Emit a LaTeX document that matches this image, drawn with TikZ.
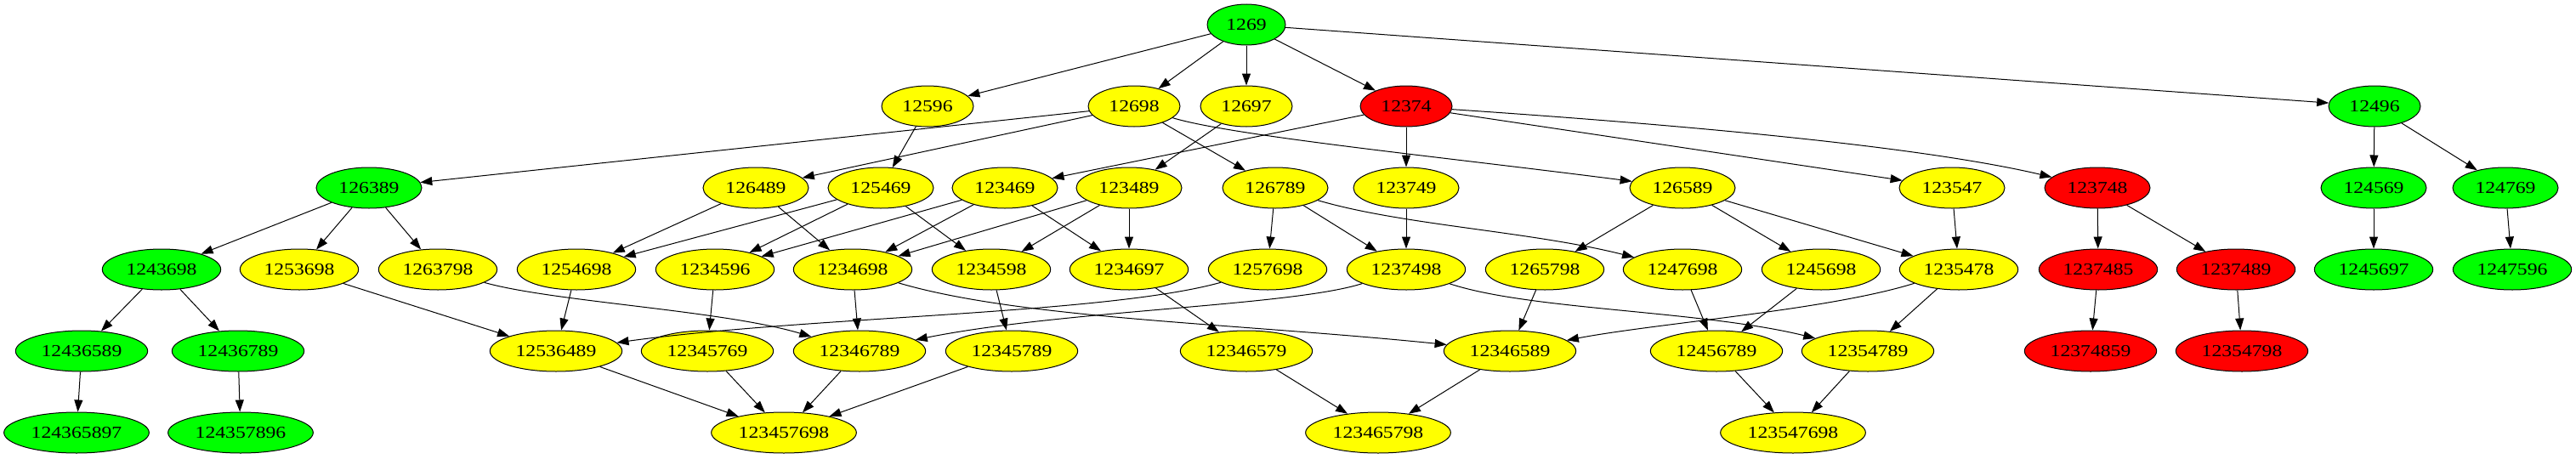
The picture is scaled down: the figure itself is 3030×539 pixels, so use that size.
\documentclass[tikz,border=0pt]{standalone}
\usepackage{fontspec}
\setmainfont[FakeStretch=1.2]{Liberation Serif}
\usetikzlibrary{arrows.meta,shapes.geometric}
\definecolor{gvgreen}{RGB}{0,255,0}
\definecolor{gvyellow}{RGB}{255,255,0}
\definecolor{gvred}{RGB}{255,0,0}
\begin{document}
\begin{tikzpicture}[x=0.75pt,y=-0.75pt,
  nd/.style={ellipse,draw=black,line width=0.75pt,minimum height=36pt,inner sep=0pt,font=\fontsize{14.8}{16}\selectfont},
  grn/.style={nd,fill=gvgreen},
  yel/.style={nd,fill=gvyellow},
  redn/.style={nd,fill=gvred},
  dd4/.style={minimum width=69pt},
  dd5/.style={minimum width=81pt},
  dd6/.style={minimum width=93pt},
  dd7/.style={minimum width=104.5pt},
  dd8/.style={minimum width=116.5pt},
  dd9/.style={minimum width=128pt},
  arr/.style={line width=0.75pt,-{Triangle[length=10.5pt,width=7.5pt]}}
]
\useasboundingbox (0,0) rectangle (3030,539);
% row 1
\node[grn,dd4] (n1269) at (1466,29) {1269};
% row 2
\node[yel,dd5] (n12596) at (1091,125) {12596};
\node[yel,dd5] (n12698) at (1334,125) {12698};
\node[yel,dd5] (n12697) at (1466,125) {12697};
\node[redn,dd5] (n12374) at (1654,125) {12374};
\node[grn,dd5] (n12496) at (2793,125) {12496};
% row 3
\node[grn,dd6] (n126389) at (434,221) {126389};
\node[yel,dd6] (n126489) at (889,221) {126489};
\node[yel,dd6] (n125469) at (1036,221) {125469};
\node[yel,dd6] (n123469) at (1182,221) {123469};
\node[yel,dd6] (n123489) at (1328,221) {123489};
\node[yel,dd6] (n126789) at (1500,221) {126789};
\node[yel,dd6] (n123749) at (1654,221) {123749};
\node[yel,dd6] (n126589) at (1979,221) {126589};
\node[yel,dd6] (n123547) at (2296,221) {123547};
\node[redn,dd6] (n123748) at (2467,221) {123748};
\node[grn,dd6] (n124569) at (2792,221) {124569};
\node[grn,dd6] (n124769) at (2947,221) {124769};
% row 4
\node[grn,dd7] (n1243698) at (190,317) {1243698};
\node[yel,dd7] (n1253698) at (352,317) {1253698};
\node[yel,dd7] (n1263798) at (515,317) {1263798};
\node[yel,dd7] (n1254698) at (678,317) {1254698};
\node[yel,dd7] (n1234596) at (841,317) {1234596};
\node[yel,dd7] (n1234698) at (1003,317) {1234698};
\node[yel,dd7] (n1234598) at (1166,317) {1234598};
\node[yel,dd7] (n1234697) at (1328,317) {1234697};
\node[yel,dd7] (n1257698) at (1491,317) {1257698};
\node[yel,dd7] (n1237498) at (1654,317) {1237498};
\node[yel,dd7] (n1265798) at (1817,317) {1265798};
\node[yel,dd7] (n1247698) at (1979,317) {1247698};
\node[yel,dd7] (n1245698) at (2142,317) {1245698};
\node[yel,dd7] (n1235478) at (2304,317) {1235478};
\node[redn,dd7] (n1237485) at (2468,317) {1237485};
\node[redn,dd7] (n1237489) at (2630,317) {1237489};
\node[grn,dd7] (n1245697) at (2792,317) {1245697};
\node[grn,dd7] (n1247596) at (2955,317) {1247596};
% row 5
\node[grn,dd8] (n12436589) at (96,413) {12436589};
\node[grn,dd8] (n12436789) at (280,413) {12436789};
\node[yel,dd8] (n12536489) at (654,413) {12536489};
\node[yel,dd8] (n12345769) at (832,413) {12345769};
\node[yel,dd8] (n12346789) at (1011,413) {12346789};
\node[yel,dd8] (n12345789) at (1190,413) {12345789};
\node[yel,dd8] (n12346579) at (1466,413) {12346579};
\node[yel,dd8] (n12346589) at (1776,413) {12346589};
\node[yel,dd8] (n12456789) at (2019,413) {12456789};
\node[yel,dd8] (n12354789) at (2197,413) {12354789};
\node[redn,dd8] (n12374859) at (2459,413) {12374859};
\node[redn,dd8] (n12354798) at (2637,413) {12354798};
% row 6
\node[grn,dd9] (n124365897) at (90,509) {124365897};
\node[grn,dd9] (n124357896) at (283,509) {124357896};
\node[yel,dd9] (n123457698) at (922,509) {123457698};
\node[yel,dd9] (n123465798) at (1621,509) {123465798};
\node[yel,dd9] (n123547698) at (2109,509) {123547698};
% straight edges
\foreach \a/\b in {1269/12596,1269/12698,1269/12697,1269/12374,1269/12496,
  12596/125469,12698/126389,12698/126489,12698/126789,12697/123489,
  12374/123469,12374/123749,12374/123547,12496/124569,12496/124769,
  126389/1243698,126389/1253698,126389/1263798,126489/1254698,126489/1234698,
  125469/1254698,125469/1234596,125469/1234598,123469/1234596,123469/1234698,123469/1234697,
  123489/1234698,123489/1234598,123489/1234697,126789/1257698,126789/1237498,
  123749/1237498,126589/1265798,126589/1245698,126589/1235478,123547/1235478,
  123748/1237485,123748/1237489,124569/1245697,124769/1247596,
  1243698/12436589,1243698/12436789,1253698/12536489,1254698/12536489,
  1234596/12345769,1234698/12346789,1234598/12345789,1234697/12346579,
  1265798/12346589,1247698/12456789,1245698/12456789,1235478/12354789,
  1237485/12374859,1237489/12354798,
  12436589/124365897,12436789/124357896,12536489/123457698,12345769/123457698,
  12346789/123457698,12345789/123457698,12346579/123465798,12346589/123465798,
  12456789/123547698,12354789/123547698}
  \draw[arr] (n\a) -- (n\b);
% curved edges
\draw[arr] (n12698) .. controls (1450,160) and (1700,185) .. (n126589);
\draw[arr] (n12374) .. controls (1950,145) and (2250,170) .. (n123748);
\draw[arr] (n126789) .. controls (1650,265) and (1800,272) .. (n1247698);
\draw[arr] (n1263798) .. controls (650,355) and (850,365) .. (n12346789);
\draw[arr] (n1234698) .. controls (1200,375) and (1450,380) .. (n12346589);
\draw[arr] (n1257698) .. controls (1300,370) and (950,372) .. (n12536489);
\draw[arr] (n1237498) .. controls (1520,360) and (1250,365) .. (n12346789);
\draw[arr] (n1237498) .. controls (1800,365) and (2000,365) .. (n12354789);
\draw[arr] (n1235478) .. controls (2150,365) and (1950,380) .. (n12346589);
\end{tikzpicture}
\end{document}
